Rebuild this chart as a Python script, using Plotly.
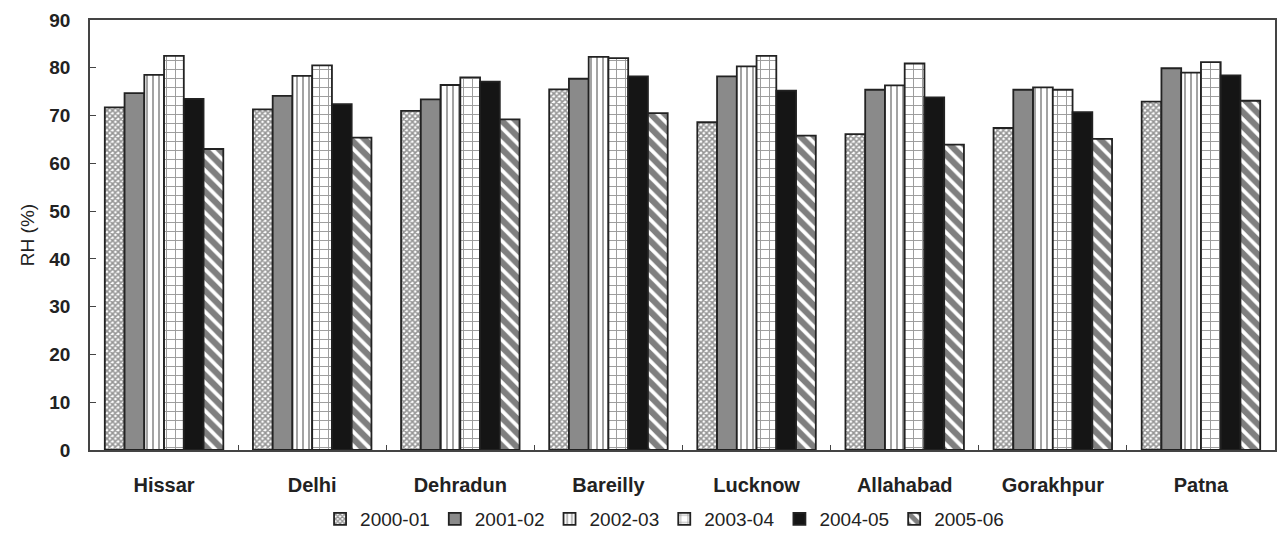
import plotly.graph_objects as go

cities = ["Hissar", "Delhi", "Dehradun", "Bareilly", "Lucknow", "Allahabad", "Gorakhpur", "Patna"]
years = ["2000-01", "2001-02", "2002-03", "2003-04", "2004-05", "2005-06"]

rh_2000_01 = [71.7, 71.3, 71.0, 75.5, 68.6, 66.1, 67.4, 72.9]
rh_2001_02 = [74.7, 74.1, 73.4, 77.7, 78.2, 75.4, 75.4, 79.9]
rh_2002_03 = [78.5, 78.3, 76.4, 82.3, 80.3, 76.3, 75.9, 79.0]
rh_2003_04 = [82.5, 80.5, 78.0, 82.0, 82.5, 80.9, 75.4, 81.2]
rh_2004_05 = [73.5, 72.4, 77.1, 78.2, 75.2, 73.8, 70.7, 78.4]
rh_2005_06 = [63.0, 65.4, 69.2, 70.5, 65.8, 63.9, 65.1, 73.1]

series = [rh_2000_01, rh_2001_02, rh_2002_03, rh_2003_04, rh_2004_05, rh_2005_06]

styles = [
    dict(color="white", pattern=dict(shape="x", size=4, solidity=0.65, fgcolor="#2a2a2a", bgcolor="white", fillmode="overlay")),
    dict(color="#8a8a8a"),
    dict(color="white", pattern=dict(shape="|", size=6, solidity=0.3, fgcolor="#333333", bgcolor="white", fillmode="overlay")),
    dict(color="white", pattern=dict(shape="+", size=9, solidity=0.2, fgcolor="#333333", bgcolor="white", fillmode="overlay")),
    dict(color="#151515"),
    dict(color="white", pattern=dict(shape="\\", size=10, solidity=0.62, fgcolor="#000000", bgcolor="white", fillmode="overlay")),
]

fig = go.Figure()
for name, vals, st in zip(years, series, styles):
    marker = dict(color=st["color"], line=dict(color="#222222", width=1.8))
    if "pattern" in st:
        marker["pattern"] = st["pattern"]
    fig.add_trace(go.Bar(name=name, x=cities, y=vals, marker=marker))

fig.update_layout(
    width=1278, height=534,
    barmode="group", bargap=0.2, bargroupgap=0,
    plot_bgcolor="white", paper_bgcolor="white",
    margin=dict(l=90, r=3, t=20, b=84),
    font=dict(family="Liberation Sans, Arial, sans-serif", color="#222222"),
    legend=dict(orientation="h", xref="container", yref="container",
                x=0.52, xanchor="center", y=0.028, yanchor="middle",
                font=dict(size=19, color="#222222"), itemwidth=30, traceorder="normal"),
    showlegend=True,
)
fig.update_yaxes(
    range=[0, 90], dtick=10, ticks="inside", ticklen=6, tickcolor="#444444",
    showline=True, linecolor="#444444", linewidth=1.5, mirror=True,
    showgrid=False, zeroline=False, automargin=False,
    tickfont=dict(size=19, family="Liberation Sans, Arial, sans-serif", weight="bold"),
    ticklabelstandoff=14,
    title=dict(text="RH (%)", font=dict(size=19), standoff=10),
)
fig.update_xaxes(
    ticks="inside", ticklen=5, tickcolor="#444444", tickson="boundaries",
    showline=True, linecolor="#444444", linewidth=1.5, mirror=True, automargin=False,
    tickfont=dict(size=20, family="Liberation Sans, Arial, sans-serif", weight="bold"),
    ticklabelstandoff=16,
)

fig.write_html("out.html", config={"displayModeBar": False},
               post_script="document.body.style.margin='0';document.body.style.overflow='hidden';")
